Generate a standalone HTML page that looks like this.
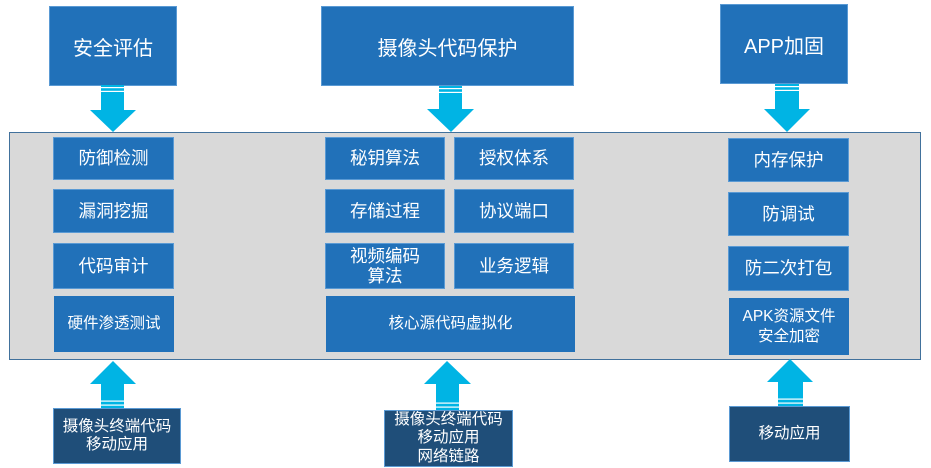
<!DOCTYPE html>
<html>
<head>
<meta charset="utf-8">
<style>
html,body{margin:0;padding:0;background:#fff;}
body{width:931px;height:468px;position:relative;overflow:hidden;font-family:"Liberation Sans","Noto Sans CJK SC",sans-serif;}
.b{position:absolute;box-sizing:border-box;background:#2171B9;border:1px solid #5A9AD4;color:#fff;display:flex;align-items:center;justify-content:center;text-align:center;white-space:nowrap;}
.t{font-size:20px;}
.m{font-size:17.5px;line-height:20.5px;}
.s{font-size:15.5px;line-height:20px;}
.d{background:#1F4E79;border-color:#5A9AD4;font-size:15.5px;line-height:18.5px;}
.panel{position:absolute;left:9px;top:132px;width:912px;height:228px;box-sizing:border-box;background:#D9D9D9;border:1px solid #41719C;}
svg{position:absolute;left:0;top:0;}
</style>
</head>
<body>
<div class="panel"></div>

<!-- top boxes -->
<div class="b t" style="left:49px;top:6px;width:128px;height:80px;">安全评估</div>
<div class="b t" style="left:321px;top:6px;width:253px;height:80px;">摄像头代码保护</div>
<div class="b t" style="left:720px;top:4px;width:128px;height:80px;">APP加固</div>

<!-- left column -->
<div class="b m" style="left:53px;top:137px;width:121px;height:43px;">防御检测</div>
<div class="b m" style="left:53px;top:189px;width:121px;height:44px;">漏洞挖掘</div>
<div class="b m" style="left:53px;top:243px;width:121px;height:46px;">代码审计</div>
<div class="b s" style="left:54px;top:296px;width:120px;height:56px;border-color:#2171B9;">硬件渗透测试</div>

<!-- middle column -->
<div class="b m" style="left:325px;top:137px;width:120px;height:43px;">秘钥算法</div>
<div class="b m" style="left:454px;top:137px;width:120px;height:43px;">授权体系</div>
<div class="b m" style="left:325px;top:189px;width:120px;height:44px;">存储过程</div>
<div class="b m" style="left:454px;top:189px;width:120px;height:44px;">协议端口</div>
<div class="b m" style="left:325px;top:243px;width:120px;height:46px;">视频编码<br>算法</div>
<div class="b m" style="left:454px;top:243px;width:120px;height:46px;">业务逻辑</div>
<div class="b s" style="left:326px;top:296px;width:249px;height:56px;border-color:#2171B9;">核心源代码虚拟化</div>

<!-- right column -->
<div class="b m" style="left:728px;top:138px;width:121px;height:44px;">内存保护</div>
<div class="b m" style="left:728px;top:192px;width:121px;height:44px;">防调试</div>
<div class="b m" style="left:728px;top:246px;width:121px;height:45px;">防二次打包</div>
<div class="b s" style="left:729px;top:298px;width:120px;height:57px;border-color:#2171B9;">APK资源文件<br>安全加密</div>

<!-- bottom boxes -->
<div class="b d" style="left:53px;top:408px;width:128px;height:56px;">摄像头终端代码<br>移动应用</div>
<div class="b d" style="left:384px;top:410px;width:129px;height:57px;">摄像头终端代码<br>移动应用<br>网络链路</div>
<div class="b d" style="left:729px;top:406px;width:121px;height:56px;">移动应用</div>

<svg width="931" height="468" viewBox="0 0 931 468">
  <g fill="#00B4E4">
    <!-- down arrows -->
    <rect x="101" y="85" width="23" height="25"/>
    <polygon points="90,110 136,110 113,132"/>
    <rect x="439" y="86" width="23" height="24"/>
    <polygon points="427,109 474,109 451,132"/>
    <rect x="775" y="84" width="24" height="25"/>
    <polygon points="764,109 810,109 787,132"/>
    <!-- up arrows -->
    <polygon points="90,384 136,384 113,361"/>
    <rect x="101" y="384" width="23" height="24"/>
    <polygon points="424,384 471,384 447,361"/>
    <rect x="436" y="384" width="23" height="26"/>
    <polygon points="767,382 813,382 790,359"/>
    <rect x="778" y="382" width="25" height="24"/>
  </g>
  <g fill="#ffffff">
    <rect x="101" y="87" width="23" height="1.2"/>
    <rect x="101" y="90.8" width="23" height="1.2"/>
    <rect x="439" y="88" width="23" height="1.2"/>
    <rect x="439" y="91.8" width="23" height="1.2"/>
    <rect x="775" y="86" width="24" height="1.2"/>
    <rect x="775" y="89.8" width="24" height="1.2"/>
    <rect x="101" y="400.5" width="23" height="1.2"/>
    <rect x="101" y="404.5" width="23" height="1.2"/>
    <rect x="436" y="402.5" width="23" height="1.2"/>
    <rect x="436" y="406.5" width="23" height="1.2"/>
    <rect x="778" y="398.5" width="25" height="1.2"/>
    <rect x="778" y="402.5" width="25" height="1.2"/>
  </g>
</svg>
</body>
</html>
